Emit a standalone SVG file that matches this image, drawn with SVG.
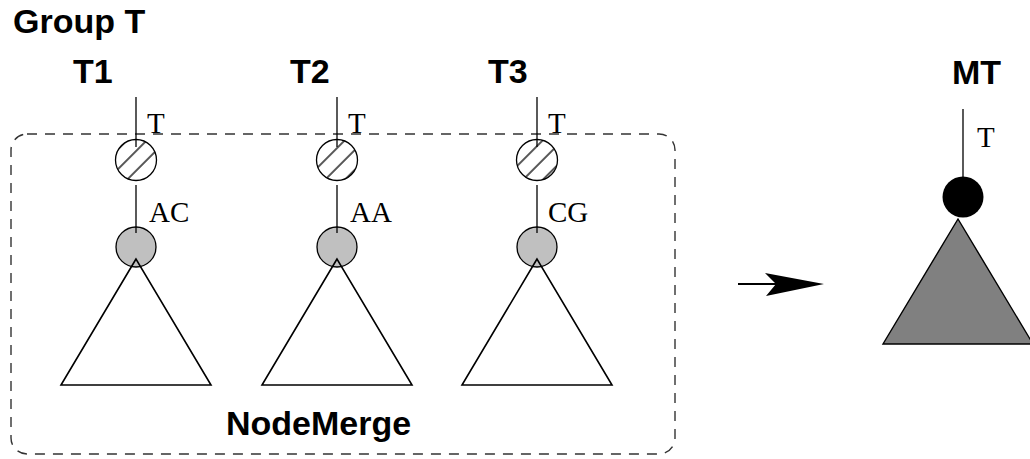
<svg xmlns="http://www.w3.org/2000/svg" width="1030" height="459" viewBox="0 0 1030 459">
  <style>
    .title { font-family: "Liberation Sans", Arial, sans-serif; font-weight: bold; font-size: 34px; fill: #000; }
    .edge-label { font-family: "Liberation Serif", "Times New Roman", serif; font-size: 29px; fill: #000; }
    .hatched { fill: url(#hatch); stroke: #000; stroke-width: 1.3; }
    .inner { fill: #c0c0c0; stroke: #000; stroke-width: 1.3; }
    .subtree { fill: none; stroke: #000; stroke-width: 1.6; stroke-linejoin: miter; }
    .edge { stroke: #000; stroke-width: 1.3; fill: none; }
    .group-box { fill: none; stroke: #333; stroke-width: 1.4; stroke-dasharray: 10 8; }
  </style>
  <defs>
    <!-- diagonal hatching for the root nodes of the input trees -->
    <pattern id="hatch" patternUnits="userSpaceOnUse" width="14" height="14" patternTransform="rotate(45)">
      <rect width="14" height="14" fill="#fff"/>
      <line x1="7" y1="0" x2="7" y2="14" stroke="#444" stroke-width="1.8"/>
    </pattern>
  </defs>

  <rect width="1030" height="459" fill="#fff"/>

  <!-- group heading and dashed merge region -->
  <g id="group-t">
    <text class="title" x="13" y="33">Group T</text>
    <rect class="group-box" x="11" y="134" width="664" height="320" rx="16" ry="16"/>
    <text class="title" x="226" y="435">NodeMerge</text>
  </g>

  <!-- tree T1 -->
  <g id="tree-t1">
    <text class="title" x="73" y="83">T1</text>
    <circle class="inner" cx="136" cy="247" r="20"/>
    <polygon class="subtree" points="136,259 61,385 211,385"/>
    <circle class="hatched" cx="136" cy="160" r="20.5"/>
  </g>

  <!-- tree T2 -->
  <g id="tree-t2">
    <text class="title" x="290" y="83">T2</text>
    <circle class="inner" cx="337" cy="247" r="20"/>
    <polygon class="subtree" points="337,259 262,385 412,385"/>
    <circle class="hatched" cx="337" cy="160" r="20.5"/>
  </g>

  <!-- tree T3 -->
  <g id="tree-t3">
    <text class="title" x="488" y="83">T3</text>
    <circle class="inner" cx="537" cy="247" r="20"/>
    <polygon class="subtree" points="537,259 462,385 612,385"/>
    <circle class="hatched" cx="537" cy="160" r="20.5"/>
  </g>

  <!-- merged tree MT -->
  <g id="tree-mt">
    <text class="title" x="952" y="84">MT</text>
    <polygon points="958,219 883,344 1033,344" fill="#808080" stroke="#000" stroke-width="1.4"/>
    <circle cx="963" cy="197" r="20.5" fill="#000"/>
  </g>

  <!-- edges and the merge arrow -->
  <g id="connectors">
    <line class="edge" x1="136" y1="97" x2="136" y2="147"/>
    <line class="edge" x1="136" y1="185" x2="136" y2="233"/>
    <line class="edge" x1="337" y1="97" x2="337" y2="147"/>
    <line class="edge" x1="337" y1="185" x2="337" y2="233"/>
    <line class="edge" x1="537" y1="97" x2="537" y2="147"/>
    <line class="edge" x1="537" y1="185" x2="537" y2="233"/>
    <line class="edge" x1="963" y1="109" x2="963" y2="177"/>

    <text class="edge-label" x="147" y="133">T</text>
    <text class="edge-label" x="348" y="133">T</text>
    <text class="edge-label" x="548" y="133">T</text>
    <text class="edge-label" x="149" y="222">AC</text>
    <text class="edge-label" x="350" y="222">AA</text>
    <text class="edge-label" x="548" y="222">CG</text>
    <text class="edge-label" x="977" y="147">T</text>

    <line x1="738" y1="284" x2="778" y2="284" stroke="#000" stroke-width="2.2"/>
    <polygon points="824,284 765,273 776,284 766,296" fill="#000"/>
  </g>
</svg>
